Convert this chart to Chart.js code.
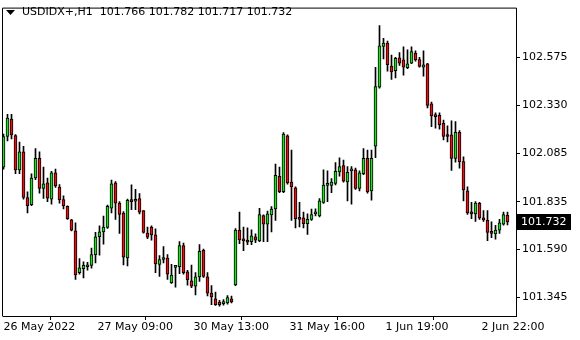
<!DOCTYPE html>
<html>
<head>
<meta charset="utf-8">
<script src="https://cdn.jsdelivr.net/npm/chart.js@4/dist/chart.umd.min.js"></script>
<style>
html,body{margin:0;padding:0;background:#fff;}
#wrap{width:580px;height:340px;}
</style>
</head>
<body>
<div id="wrap"><canvas id="c" width="580" height="340"></canvas></div>
<script>
// ---- data (USDIDX+, H1) ----
const symbolTitle = "USDIDX+,H1";
const lastQuote = [101.766, 101.782, 101.717, 101.732];
const timeLabels = ["26 May 2022", "27 May 09:00", "30 May 13:00", "31 May 16:00", "1 Jun 19:00", "2 Jun 22:00"];
const timeLabelBars = [0, 24, 48, 72, 96, 120];
const priceTicks = [101.345, 101.590, 101.835, 102.085, 102.330, 102.575];

const opens = [
102.013,102.170,102.259,102.175,101.999,102.091,101.857,101.820,101.957,102.058,
101.904,101.932,101.849,101.983,101.911,101.846,101.812,101.742,101.686,101.471,
101.492,101.502,101.509,101.564,101.656,101.681,101.703,101.802,101.932,101.828,
101.777,101.547,101.840,101.838,101.851,101.790,101.675,101.706,101.665,101.514,
101.539,101.546,101.420,101.499,101.502,101.610,101.476,101.430,101.402,101.450,
101.586,101.450,101.367,101.338,101.320,101.313,101.316,101.338,101.409,101.690,
101.643,101.636,101.631,101.655,101.635,101.765,101.720,101.768,101.798,101.966,
101.887,102.173,101.936,101.907,101.752,101.753,101.723,101.745,101.773,101.762,
101.832,101.919,101.919,101.929,101.988,102.021,101.937,101.994,101.999,101.904,
101.979,102.058,101.891,102.120,102.423,102.632,102.649,102.531,102.508,102.573,
102.563,102.523,102.546,102.598,102.565,102.526,102.543,102.337,102.279,102.279,
102.237,102.178,102.178,102.058,102.192,102.041,101.891,101.782,101.773,101.827,
101.752,101.740,101.681,101.670,101.690,101.720,101.766];
const highs = [
102.183,102.284,102.284,102.180,102.142,102.120,101.886,101.979,102.108,102.091,
102.013,101.957,101.991,102.003,101.924,101.866,101.815,101.745,101.727,101.544,
101.527,101.524,101.598,101.678,101.712,101.762,101.818,101.946,101.939,101.836,
101.785,101.849,101.922,101.899,101.877,101.790,101.705,101.712,101.696,101.559,
101.606,101.564,101.514,101.506,101.631,101.623,101.484,101.511,101.472,101.616,
101.593,101.472,101.405,101.372,101.330,101.333,101.354,101.352,101.698,101.782,
101.706,101.701,101.691,101.671,101.802,101.768,101.787,101.810,102.028,102.013,
102.190,102.178,102.100,101.912,101.832,101.782,101.773,101.798,101.799,101.852,
101.999,101.994,101.954,102.036,102.061,102.049,102.016,102.016,102.008,101.994,
102.108,102.100,102.100,102.525,102.739,102.673,102.660,102.588,102.576,102.601,
102.630,102.614,102.630,102.610,102.576,102.610,102.545,102.347,102.292,102.292,
102.254,102.225,102.250,102.247,102.200,102.066,101.912,101.832,101.836,101.832,
101.790,101.790,101.732,101.715,101.745,101.782,101.782];
const lows = [
102.003,102.147,102.158,101.979,101.979,101.849,101.778,101.815,101.949,101.879,
101.852,101.836,101.823,101.909,101.828,101.798,101.745,101.686,101.437,101.464,
101.444,101.484,101.494,101.521,101.561,101.618,101.698,101.778,101.745,101.673,
101.511,101.506,101.795,101.795,101.773,101.674,101.646,101.638,101.472,101.452,
101.522,101.437,101.417,101.397,101.467,101.464,101.407,101.394,101.357,101.427,
101.447,101.352,101.308,101.303,101.300,101.305,101.310,101.316,101.405,101.620,
101.585,101.615,101.615,101.626,101.631,101.631,101.631,101.681,101.740,101.882,
101.882,101.926,101.740,101.701,101.706,101.701,101.668,101.740,101.762,101.758,
101.827,101.836,101.882,101.922,101.966,101.936,101.840,101.823,101.899,101.891,
101.974,101.879,101.844,102.061,102.418,102.568,102.505,102.463,102.471,102.535,
102.484,102.518,102.543,102.556,102.526,102.479,102.317,102.220,102.213,102.208,
102.153,102.142,101.996,102.038,102.008,101.840,101.770,101.748,101.735,101.745,
101.735,101.636,101.651,101.643,101.673,101.715,101.717];
const closes = [
102.170,102.264,102.178,101.999,102.091,101.857,101.815,101.957,102.058,101.904,
101.927,101.854,101.983,101.916,101.846,101.815,101.748,101.690,101.460,101.496,
101.509,101.511,101.564,101.656,101.681,101.706,101.812,101.927,101.828,101.770,
101.551,101.842,101.836,101.846,101.782,101.678,101.653,101.665,101.517,101.539,
101.547,101.464,101.459,101.506,101.610,101.472,101.434,101.402,101.450,101.581,
101.452,101.367,101.347,101.308,101.308,101.321,101.344,101.321,101.690,101.640,
101.635,101.628,101.660,101.638,101.770,101.720,101.773,101.798,101.971,101.887,
102.183,101.932,101.911,101.748,101.745,101.723,101.745,101.770,101.782,101.840,
101.921,101.927,101.936,101.991,102.016,101.941,101.986,102.004,101.904,101.983,
102.058,101.887,102.058,102.426,102.635,102.649,102.538,102.501,102.571,102.546,
102.526,102.543,102.605,102.563,102.530,102.538,102.330,102.275,102.272,102.230,
102.170,102.170,102.058,102.192,102.041,101.896,101.778,101.773,101.828,101.752,
101.742,101.678,101.673,101.690,101.727,101.770,101.732];

// ---- build datasets ----
const bodyData = opens.map((o, i) => ({x: i, y: [o, closes[i]]}));
const wickData = lows.map((l, i) => ({x: i, y: [l, highs[i]]}));
const bodyColors = opens.map((o, i) => closes[i] >= o ? '#1fe01f' : '#e81010');

Chart.defaults.font.family = "'DejaVu Sans', Verdana, sans-serif";
Chart.defaults.font.size = 11;
Chart.defaults.color = '#000';

const overlay = {
  id: 'overlay',
  afterDraw(chart) {
    const ctx = chart.ctx;
    const area = chart.chartArea;
    const y = chart.scales.y;
    ctx.save();
    // left / top frame lines
    ctx.strokeStyle = '#000';
    ctx.lineWidth = 1;
    ctx.beginPath();
    ctx.moveTo(area.left - 0.5, area.top - 0.5);
    ctx.lineTo(area.left - 0.5, area.bottom + 0.5);
    ctx.moveTo(area.left - 0.5, area.top - 0.5);
    ctx.lineTo(area.right + 0.5, area.top - 0.5);
    ctx.stroke();
    // caption
    ctx.fillStyle = '#000';
    ctx.beginPath();
    ctx.moveTo(6, 10); ctx.lineTo(15, 10); ctx.lineTo(10.5, 15); ctx.closePath();
    ctx.fill();
    ctx.font = "11px 'DejaVu Sans'";
    ctx.textBaseline = 'middle';
    ctx.textAlign = 'left';
    ctx.fillText(symbolTitle + '  ' + lastQuote.map(v => v.toFixed(3)).join(' '), 22, 12.5);
    // current price label
    const last = closes[closes.length - 1];
    const py = Math.round(y.getPixelForValue(last));
    ctx.fillStyle = '#000';
    ctx.fillRect(area.right + 1, py - 8, 54, 16);
    ctx.fillStyle = '#fff';
    ctx.fillText(last.toFixed(3), area.right + 5, py + 0.5);
    ctx.restore();
  }
};

new Chart(document.getElementById('c'), {
  type: 'bar',
  data: {
    datasets: [
      {
        data: bodyData,
        backgroundColor: bodyColors,
        borderColor: '#000',
        borderWidth: 1,
        borderSkipped: false,
        barThickness: 3,
        minBarLength: 2,
        grouped: false
      },
      {
        data: wickData,
        backgroundColor: '#000',
        borderWidth: 0,
        barThickness: 1,
        grouped: false
      }
    ]
  },
  options: {
    responsive: false,
    animation: false,
    devicePixelRatio: 1,
    layout: {padding: {left: 3, top: 3, right: 0, bottom: 0}},
    plugins: {legend: {display: false}, tooltip: {enabled: false}},
    scales: {
      x: {
        type: 'linear',
        min: -0.125,
        max: 128.125,
        offset: false,
        afterBuildTicks: (s) => { s.ticks = timeLabelBars.map(v => ({value: v === 0 ? v : v - 0.5})); },
        afterFit: (s) => { s.height = 24; },
        grid: {display: true, drawOnChartArea: false, drawTicks: true, tickLength: 4, color: '#000'},
        border: {display: true, color: '#000', width: 1},
        ticks: {
          align: 'start',
          autoSkip: false,
          maxRotation: 0,
          padding: 1,
          callback: (v, i) => timeLabels[i]
        }
      },
      y: {
        position: 'right',
        min: 101.2493,
        max: 102.826,
        afterBuildTicks: (s) => { s.ticks = priceTicks.map(v => ({value: v})); },
        afterFit: (s) => { s.width = 64; },
        grid: {display: true, drawOnChartArea: false, drawTicks: true, tickLength: 4, color: '#000'},
        border: {display: true, color: '#000', width: 1},
        ticks: {
          autoSkip: false,
          padding: 2,
          callback: (v) => Number(v).toFixed(3)
        }
      }
    }
  },
  plugins: [overlay]
});
</script>
</body>
</html>
